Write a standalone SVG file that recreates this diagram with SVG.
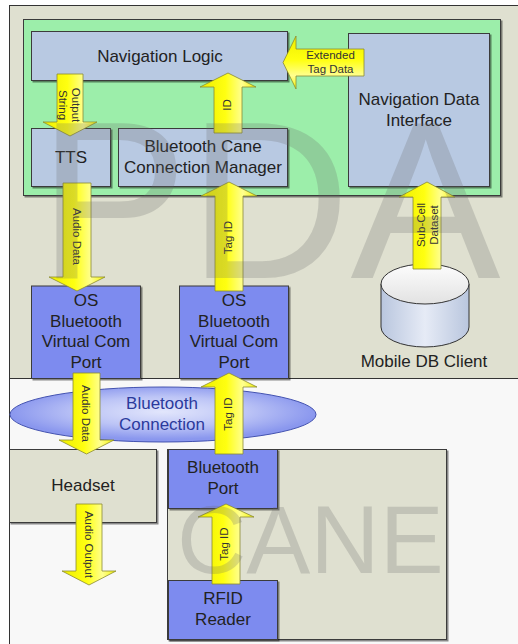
<svg xmlns="http://www.w3.org/2000/svg" width="518" height="644" viewBox="0 0 518 644">
  <defs>
    <filter id="shadow" x="-5%" y="-5%" width="115%" height="115%">
      <feDropShadow dx="1.5" dy="1.5" stdDeviation="0.7" flood-color="#000" flood-opacity="0.45"/>
    </filter>
    <linearGradient id="arrowV" x1="0" y1="0" x2="1" y2="0">
      <stop offset="0" stop-color="#eeee00"/>
      <stop offset="0.45" stop-color="#ffff10"/>
      <stop offset="0.75" stop-color="#ffff90"/>
      <stop offset="1" stop-color="#f4f400"/>
    </linearGradient>
    <linearGradient id="arrowH" x1="0" y1="0" x2="0" y2="1">
      <stop offset="0" stop-color="#eeee00"/>
      <stop offset="0.45" stop-color="#ffff10"/>
      <stop offset="0.75" stop-color="#ffff90"/>
      <stop offset="1" stop-color="#f4f400"/>
    </linearGradient>
    <radialGradient id="linkFill" cx="0.5" cy="0.45" r="0.5">
      <stop offset="0" stop-color="#e2e6fc"/>
      <stop offset="0.55" stop-color="#bcc4f6"/>
      <stop offset="1" stop-color="#8a97ee"/>
    </radialGradient>
    <linearGradient id="cylBody" x1="0" y1="0" x2="1" y2="0">
      <stop offset="0" stop-color="#b9c6de"/>
      <stop offset="0.5" stop-color="#e6ebf6"/>
      <stop offset="1" stop-color="#b9c6de"/>
    </linearGradient>
    <linearGradient id="cylTop" x1="0" y1="0" x2="0" y2="1">
      <stop offset="0" stop-color="#fdfdfd"/>
      <stop offset="1" stop-color="#e2e2e2"/>
    </linearGradient>
  </defs>
  <style>
    .frame { stroke: #333; stroke-width: 1; }
    .box { stroke: #3a3a3a; stroke-width: 1; filter: url(#shadow); }
    .soft { fill: #b8c9e2; }
    .port { fill: #7d8bef; }
    .beige { fill: #dfe0d0; }
    .lbl { font-family: "Liberation Sans", Arial, sans-serif; font-size: 17px; fill: #222; text-anchor: middle; }
    .small { font-family: "Liberation Sans", Arial, sans-serif; font-size: 11.5px; fill: #333; text-anchor: middle; }
    .arrow { stroke: #8a8a30; stroke-width: 0.8; stroke-linejoin: miter; }
    .v { fill: url(#arrowV); }
    .h { fill: url(#arrowH); }
    .mark { font-family: "Liberation Sans", Arial, sans-serif; fill: #6a6a6a; fill-opacity: 0.24; }
  </style>

  <!-- page background and outer frame -->
  <rect x="0" y="0" width="518" height="644" fill="#ffffff"/>
  <rect class="frame" x="9.5" y="5.5" width="520" height="650" fill="#f8f8f8"/>

  <!-- PDA region -->
  <g id="pda">
    <rect class="frame beige" x="9.5" y="5.5" width="520" height="373"/>
    <rect class="box" x="23.5" y="19.5" width="477" height="176" fill="#9ceeaa"/>
  </g>

  <g id="navigation-logic">
    <rect class="box soft" x="31.5" y="31.5" width="256" height="49"/>
    <text class="lbl" x="160" y="62">Navigation Logic</text>
  </g>

  <g id="tts">
    <rect class="box soft" x="31.5" y="128.5" width="79" height="58"/>
    <text class="lbl" x="71" y="163">TTS</text>
  </g>

  <g id="bt-cane-manager">
    <rect class="box soft" x="118.5" y="128.5" width="169" height="58"/>
    <text class="lbl" x="203" y="152">Bluetooth Cane</text>
    <text class="lbl" x="203" y="173">Connection Manager</text>
  </g>

  <g id="nav-data-interface">
    <rect class="box soft" x="348.5" y="33.5" width="141" height="153"/>
    <text class="lbl" x="419" y="105">Navigation Data</text>
    <text class="lbl" x="419" y="125.5">Interface</text>
  </g>

  <g id="os-port-audio">
    <rect class="box port" x="31.5" y="286" width="109" height="92.5"/>
    <text class="lbl" x="86" y="306">OS</text>
    <text class="lbl" x="86" y="326.7">Bluetooth</text>
    <text class="lbl" x="86" y="347.3">Virtual Com</text>
    <text class="lbl" x="86" y="368">Port</text>
  </g>

  <g id="os-port-tag">
    <rect class="box port" x="179.5" y="286" width="109" height="92.5"/>
    <text class="lbl" x="234" y="306">OS</text>
    <text class="lbl" x="234" y="326.7">Bluetooth</text>
    <text class="lbl" x="234" y="347.3">Virtual Com</text>
    <text class="lbl" x="234" y="368">Port</text>
  </g>

  <g id="mobile-db-client">
    <path d="M381 284 L381 327 A44 20 0 0 0 469 327 L469 284 Z" fill="url(#cylBody)" stroke="#333" stroke-width="1"/>
    <ellipse cx="425" cy="284" rx="44" ry="20" fill="url(#cylTop)" stroke="#333" stroke-width="1"/>
    <text class="lbl" x="424" y="367">Mobile DB Client</text>
  </g>

  <!-- CANE region -->
  <g id="cane">
    <rect class="box beige" x="167.5" y="449.5" width="279" height="190"/>
  </g>

  <g id="headset">
    <rect class="box beige" x="9.5" y="449.5" width="147" height="73"/>
    <text class="lbl" x="83" y="491">Headset</text>
  </g>

  <g id="bluetooth-port">
    <rect class="box port" x="168.5" y="449.5" width="109" height="59"/>
    <text class="lbl" x="223" y="473">Bluetooth</text>
    <text class="lbl" x="223" y="494">Port</text>
  </g>

  <g id="rfid-reader">
    <rect class="box port" x="168.5" y="580.5" width="109" height="59"/>
    <text class="lbl" x="223" y="604">RFID</text>
    <text class="lbl" x="223" y="625">Reader</text>
  </g>

  <g id="bluetooth-connection">
    <ellipse cx="163" cy="414.5" rx="153" ry="27.5" fill="url(#linkFill)" stroke="#4453b0" stroke-width="1"/>
    <text class="lbl" x="162" y="409" fill="#2b3a9c" style="fill:#2b3a9c">Bluetooth</text>
    <text class="lbl" x="162" y="429.5" style="fill:#2b3a9c">Connection</text>
  </g>

  <!-- data-flow arrows -->
  <g id="connectors">
    <g id="flow-output-string">
      <polygon class="arrow v" points="57,74 83,74 83,122 97,122 70,136 43,122 57,122"/>
      <g transform="translate(70,105) rotate(90)">
        <text class="small" x="0" y="-1.5">Output</text>
        <text class="small" x="0" y="11.5">String</text>
      </g>
    </g>
    <g id="flow-extended-tag">
      <polygon class="arrow h" points="364,49 296,49 296,36 283,62.5 296,89 296,76 364,76"/>
      <text class="small" x="330.5" y="58.5">Extended</text>
      <text class="small" x="330.5" y="72.5">Tag Data</text>
    </g>
    <g id="flow-id">
      <polygon class="arrow v" points="214,133 242,133 242,87 256,87 228,73 200,87 214,87"/>
      <text class="small" transform="translate(227,105) rotate(-90)" x="0" y="4">ID</text>
    </g>
    <g id="flow-audio-data-1">
      <polygon class="arrow v" points="63,183 91,183 91,277 105,277 77,291 49,277 63,277"/>
      <text class="small" transform="translate(77,236.5) rotate(90)" x="0" y="4">Audio Data</text>
    </g>
    <g id="flow-tag-id-1">
      <polygon class="arrow v" points="215,291 243,291 243,196 257,196 229,182 201,196 215,196"/>
      <text class="small" transform="translate(228,237.5) rotate(-90)" x="0" y="4">Tag ID</text>
    </g>
    <g id="flow-sub-cell">
      <polygon class="arrow v" points="413,269 441,269 441,197 455,197 427,182 399,197 413,197"/>
      <g transform="translate(427,225) rotate(-90)">
        <text class="small" x="0" y="-2">Sub-Cell</text>
        <text class="small" x="0" y="11">Dataset</text>
      </g>
    </g>
    <g id="flow-audio-data-2">
      <polygon class="arrow v" points="73,373 100,373 100,440 114,440 86.5,454 59,440 73,440"/>
      <text class="small" transform="translate(86,413.5) rotate(90)" x="0" y="4">Audio Data</text>
    </g>
    <g id="flow-tag-id-2">
      <polygon class="arrow v" points="215,454 243,454 243,387 257,387 229,373 201,387 215,387"/>
      <text class="small" transform="translate(228,414) rotate(-90)" x="0" y="4">Tag ID</text>
    </g>
    <g id="flow-audio-output">
      <polygon class="arrow v" points="76,504 102,504 102,571 116,571 89,585 62,571 76,571"/>
      <text class="small" transform="translate(89,544.5) rotate(90)" x="0" y="4">Audio Output</text>
    </g>
    <g id="flow-tag-id-3">
      <polygon class="arrow v" points="212,584 240,584 240,517 254,517 226,504 198,517 212,517"/>
      <text class="small" transform="translate(223.5,544) rotate(-90)" x="0" y="4">Tag ID</text>
    </g>
  </g>

  <!-- region watermarks -->
  <text class="mark" x="38" y="278" font-size="225">PDA</text>
  <text class="mark" x="177" y="573" font-size="96">CANE</text>
</svg>
